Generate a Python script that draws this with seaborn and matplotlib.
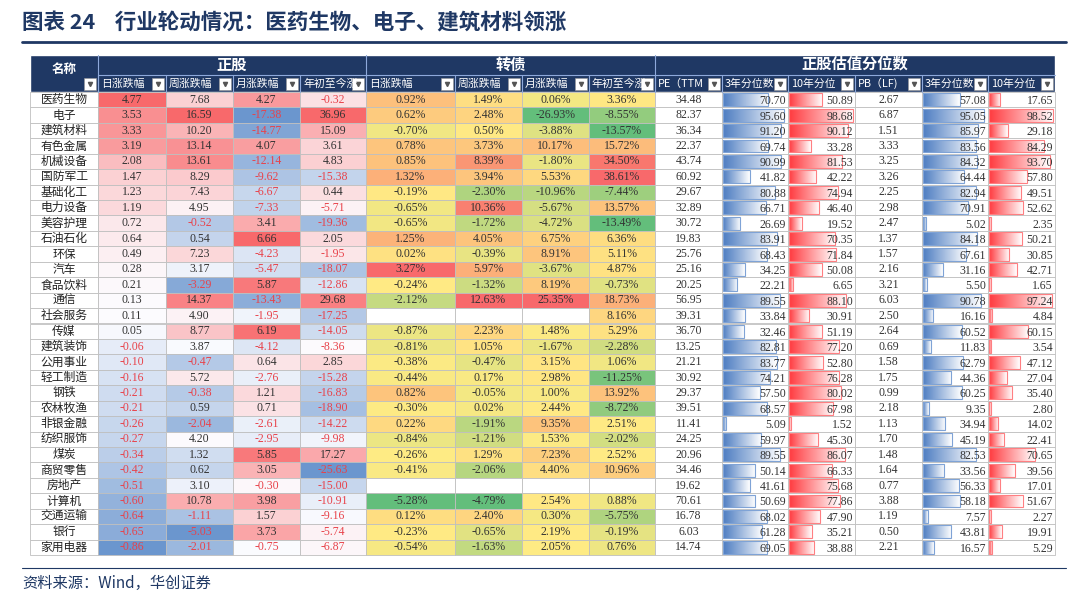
import numpy as np
import matplotlib
matplotlib.use("Agg")
import matplotlib.pyplot as plt
import seaborn as sns
from matplotlib.colors import LinearSegmentedColormap, TwoSlopeNorm

sns.set_theme(style="white")
plt.rcParams['font.family'] = ['Noto Sans CJK SC', 'DejaVu Sans']

names = ["医药生物","电子","建筑材料","有色金属","机械设备","国防军工","基础化工","电力设备","美容护理","石油石化",
         "环保","汽车","食品饮料","通信","社会服务","传媒","建筑装饰","公用事业","轻工制造","钢铁",
         "农林牧渔","非银金融","纺织服饰","煤炭","商贸零售","房地产","计算机","交通运输","银行","家用电器"]
stock_day = [4.77,3.53,3.33,3.19,2.08,1.47,1.23,1.19,0.72,0.64,0.49,0.28,0.21,0.13,0.11,0.05,-0.06,-0.10,-0.16,-0.21,-0.21,-0.26,-0.27,-0.34,-0.42,-0.51,-0.60,-0.64,-0.65,-0.86]
stock_week = [7.68,16.59,10.20,13.14,13.61,8.29,7.43,4.95,-0.52,0.54,7.23,3.17,-3.29,14.37,4.90,8.77,3.87,-0.47,5.72,-0.38,0.59,-2.04,4.20,1.32,0.62,3.10,10.78,-1.11,-5.03,-2.01]
stock_month = [4.27,-17.38,-14.77,4.07,-12.14,-9.62,-6.67,-7.33,3.41,6.66,-4.23,-5.47,5.87,-13.43,-1.95,6.19,-4.12,0.64,-2.76,1.21,0.71,-2.61,-2.95,5.85,3.05,-0.30,3.98,1.57,3.73,-0.75]
stock_ytd = [-0.32,36.96,15.09,3.61,4.83,-15.38,0.44,-5.71,-19.36,2.05,-1.95,-18.07,-12.86,29.68,-17.25,-14.05,-8.36,2.85,-15.28,-16.83,-18.90,-14.22,-9.98,17.27,-25.63,-15.00,-10.91,-9.16,-5.74,-6.87]
bond_day = [0.92,0.62,-0.70,0.78,0.85,1.32,-0.19,-0.65,-0.65,1.25,0.02,3.27,-0.24,-2.12,None,-0.87,-0.81,-0.38,-0.44,0.82,-0.30,0.22,-0.84,-0.26,-0.41,None,-5.28,0.12,-0.23,-0.54]
bond_week = [1.49,2.48,0.50,3.73,8.39,3.94,-2.30,10.36,-1.72,4.05,-0.39,5.97,-1.32,12.63,None,2.23,1.05,-0.47,0.17,-0.05,0.02,-1.91,-1.21,1.29,-2.06,None,-4.79,2.40,-0.65,-1.63]
bond_month = [0.06,-26.93,-3.88,10.17,-1.80,5.53,-10.96,-5.67,-4.72,6.75,8.91,-3.67,8.19,25.35,None,1.48,-1.67,3.15,2.98,1.00,2.44,9.35,1.53,7.23,4.40,None,2.54,0.30,2.19,2.05]
bond_ytd = [3.36,-8.55,-13.57,15.72,34.50,38.61,-7.44,13.57,-13.49,6.36,5.11,4.87,-0.73,18.73,8.16,5.29,-2.28,1.06,-11.25,13.92,-8.72,2.51,-2.02,2.52,10.96,None,0.88,-5.75,-0.19,0.76]
pe = [34.48,82.37,36.34,22.37,43.74,60.92,29.67,32.89,30.72,19.83,25.76,25.16,20.25,56.95,39.31,36.70,13.25,21.21,30.92,29.37,39.51,11.41,24.25,20.96,34.46,19.62,70.61,16.78,6.03,14.74]
pe3 = [70.70,95.60,91.20,69.74,90.99,41.82,80.88,66.71,26.69,83.91,68.43,34.25,22.21,89.55,33.84,32.46,82.81,83.77,74.21,57.50,68.57,5.09,59.97,89.55,50.14,41.61,50.69,68.02,61.28,69.05]
pe10 = [50.89,98.68,90.12,33.28,81.53,42.22,74.94,46.40,19.52,70.35,71.84,50.08,6.65,88.10,30.91,51.19,77.20,52.80,76.28,80.02,67.98,1.52,45.30,86.07,66.33,75.68,77.86,47.90,35.21,38.88]
pb = [2.67,6.87,1.51,3.33,3.25,3.26,2.25,2.98,2.47,1.37,1.57,2.16,3.21,6.03,2.50,2.64,0.69,1.58,1.75,0.99,2.18,1.13,1.70,1.48,1.64,0.77,3.88,1.19,0.50,2.21]
pb3 = [57.08,95.05,85.97,83.56,84.32,64.44,82.94,70.91,5.02,84.18,67.61,31.16,5.50,90.78,16.16,60.52,11.83,62.79,44.36,60.25,9.35,34.94,45.19,82.53,33.56,56.33,58.18,7.57,43.81,16.57]
pb10 = [17.65,98.52,29.18,84.29,93.70,57.80,49.51,52.62,2.35,50.21,30.85,42.71,1.65,97.24,4.84,60.15,3.54,47.12,27.04,35.40,2.80,14.02,22.41,70.65,39.56,17.01,51.67,2.27,19.91,5.29]

group_labels = ["正股", "转债", "正股估值分位数"]
sub_labels = ["日涨跌幅", "周涨跌幅", "月涨跌幅", "年初至今涨", "日涨跌幅", "周涨跌幅", "月涨跌幅", "年初至今涨",
              "PE（TTM", "3年分位数", "10年分位", "PB（LF)", "3年分位数", "10年分位"]

NAVY = "#1F3864"
GRID = "#BFBFBF"
col_x = [30, 98, 166, 233, 300, 366, 455, 522, 589, 655, 722, 788, 855, 922, 988, 1055]
y_head0, y_head1, y_data0, y_data1 = 55, 75, 92, 555
nrow = len(names)
rh = (y_data1 - y_data0) / nrow
serif = ['Liberation Serif', 'DejaVu Serif']

fig = plt.figure(figsize=(10.8, 5.96), dpi=100)
ax = fig.add_axes([0, 0, 1, 1])
ax.set_xlim(0, 1080); ax.set_ylim(596, 0); ax.axis('off')

# title
ax.text(22, 23, "图表 24    行业轮动情况：医药生物、电子、建筑材料领涨", fontsize=15.5, fontweight='bold',
        color=NAVY, va='center', ha='left')
ax.plot([22, 1066], [42, 42], color=NAVY, lw=2)
ax.plot([22, 1066], [568, 568], color=NAVY, lw=0.8)
ax.text(22, 583, "资料来源：Wind，华创证券", fontsize=11, style='italic', color=NAVY, va='center')

# header
ax.barh((y_head0 + y_data0) / 2, col_x[-1] - col_x[0], left=col_x[0], height=y_data0 - y_head0, color=NAVY)
ax.text(64, 70, "名称", color='white', fontsize=9, ha='center', va='center', fontweight='bold')
for lab, (a, b) in zip(group_labels, [(1, 5), (5, 9), (9, 15)]):
    ax.text((col_x[a] + col_x[b]) / 2, 65, lab, color='white', fontsize=11, fontweight='bold', ha='center', va='center')
    ax.plot([col_x[a], col_x[a]], [y_head0, y_data0], color='#8EA9DB', lw=0.8)
ax.plot([col_x[1], col_x[-1]], [y_head1, y_head1], color='#8EA9DB', lw=0.8)
for j, lab in enumerate(sub_labels):
    x0, x1 = col_x[j + 1], col_x[j + 2]
    ax.text(x0 + 3, 83.5, lab, color='white', fontsize=7.8, ha='left', va='center', family=['Noto Sans CJK SC'] + serif)
    ax.barh(83.5, 12, left=x1 - 14, height=12, color='white', edgecolor='#999999', lw=0.4)
    ax.plot([x1 - 8], [83.5], marker='v', color='#555555', ms=3)
    ax.plot([x0, x0], [y_head1, y_data0], color='#8EA9DB', lw=0.8)
ax.barh(83.5, 12, left=col_x[1] - 14, height=12, color='white', edgecolor='#999999', lw=0.4)
ax.plot([col_x[1] - 8], [83.5], marker='v', color='#555555', ms=3)

stock_cmap = LinearSegmentedColormap.from_list("st", ["#6B96CE", "#FCFCFF", "#F8696B"])
bond_cmap = LinearSegmentedColormap.from_list("bd", ["#63BE7B", "#FFEB84", "#F8696B"])

def cell_y(i):
    return y_data0 + (i + 0.5) * rh

# name column
for i, n in enumerate(names):
    ax.barh(cell_y(i), col_x[1] - col_x[0], left=col_x[0], height=rh, color='white', edgecolor=GRID, lw=0.6)
    ax.text((col_x[0] + col_x[1]) / 2, cell_y(i), n, fontsize=8.5, ha='center', va='center', color='#222222')

def color_col(j, vals, cmap, pct):
    v = np.array([np.nan if x is None else x for x in vals], float)
    vmin, vmax, mid = np.nanmin(v), np.nanmax(v), np.nanmedian(v)
    norm = TwoSlopeNorm(vcenter=mid, vmin=vmin, vmax=vmax)
    x0, x1 = col_x[j], col_x[j + 1]
    for i, val in enumerate(vals):
        c = 'white' if val is None else cmap(norm(val))
        ax.barh(cell_y(i), x1 - x0, left=x0, height=rh, color=c, edgecolor=GRID, lw=0.6)
        if val is None:
            continue
        txt = f"{val:.2f}%" if pct else f"{val:.2f}"
        tc = '#E8424A' if (val < 0 and not pct) else '#333333'
        ax.text((x0 + x1) / 2, cell_y(i), txt, fontsize=8.5, ha='center', va='center', color=tc, family=serif)

for j, vals in enumerate([stock_day, stock_week, stock_month, stock_ytd]):
    color_col(1 + j, vals, stock_cmap, False)
for j, vals in enumerate([bond_day, bond_week, bond_month, bond_ytd]):
    color_col(5 + j, vals, bond_cmap, True)

for j, vals in [(9, pe), (12, pb)]:
    x0, x1 = col_x[j], col_x[j + 1]
    for i, val in enumerate(vals):
        ax.barh(cell_y(i), x1 - x0, left=x0, height=rh, color='white', edgecolor=GRID, lw=0.6)
        ax.text((x0 + x1) / 2, cell_y(i), f"{val:.2f}", fontsize=8.5, ha='center', va='center', color='#333333', family=serif)

def databar_col(j, vals, base, edge):
    x0, x1 = col_x[j], col_x[j + 1]
    w = x1 - x0
    grad = np.linspace(0, 1, 64).reshape(1, -1)
    cm = LinearSegmentedColormap.from_list("g", [base, "#FFFFFF"])
    for i, val in enumerate(vals):
        ax.barh(cell_y(i), w, left=x0, height=rh, color='white', edgecolor=GRID, lw=0.6)
        bl = max(val / 100 * (w - 2), 1.5)
        bar = ax.barh(cell_y(i), bl, left=x0 + 1, height=rh - 2.5, color='none', edgecolor=edge, lw=0.8, zorder=3)[0]
        yb, yt = cell_y(i) + rh / 2 - 1.2, cell_y(i) - rh / 2 + 1.2
        im = ax.imshow(grad, cmap=cm, vmin=0, vmax=1, extent=[x0 + 1, x0 + 1 + bl, yb, yt],
                       aspect='auto', zorder=2, interpolation='bilinear')
        im.set_clip_path(bar)
        ax.text(x1 - 2, cell_y(i) + 1.5, f"{val:.2f}", fontsize=8.5, ha='right', va='center', color='#333333',
                family=serif, zorder=4)

databar_col(10, pe3, "#4F7EC2", "#7FA3D6")
databar_col(11, pe10, "#FF3B40", "#FF7F82")
databar_col(13, pb3, "#4F7EC2", "#7FA3D6")
databar_col(14, pb10, "#FF3B40", "#FF7F82")

ax.set_xlim(0, 1080); ax.set_ylim(596, 0)
fig.savefig("out.png", dpi=100)
